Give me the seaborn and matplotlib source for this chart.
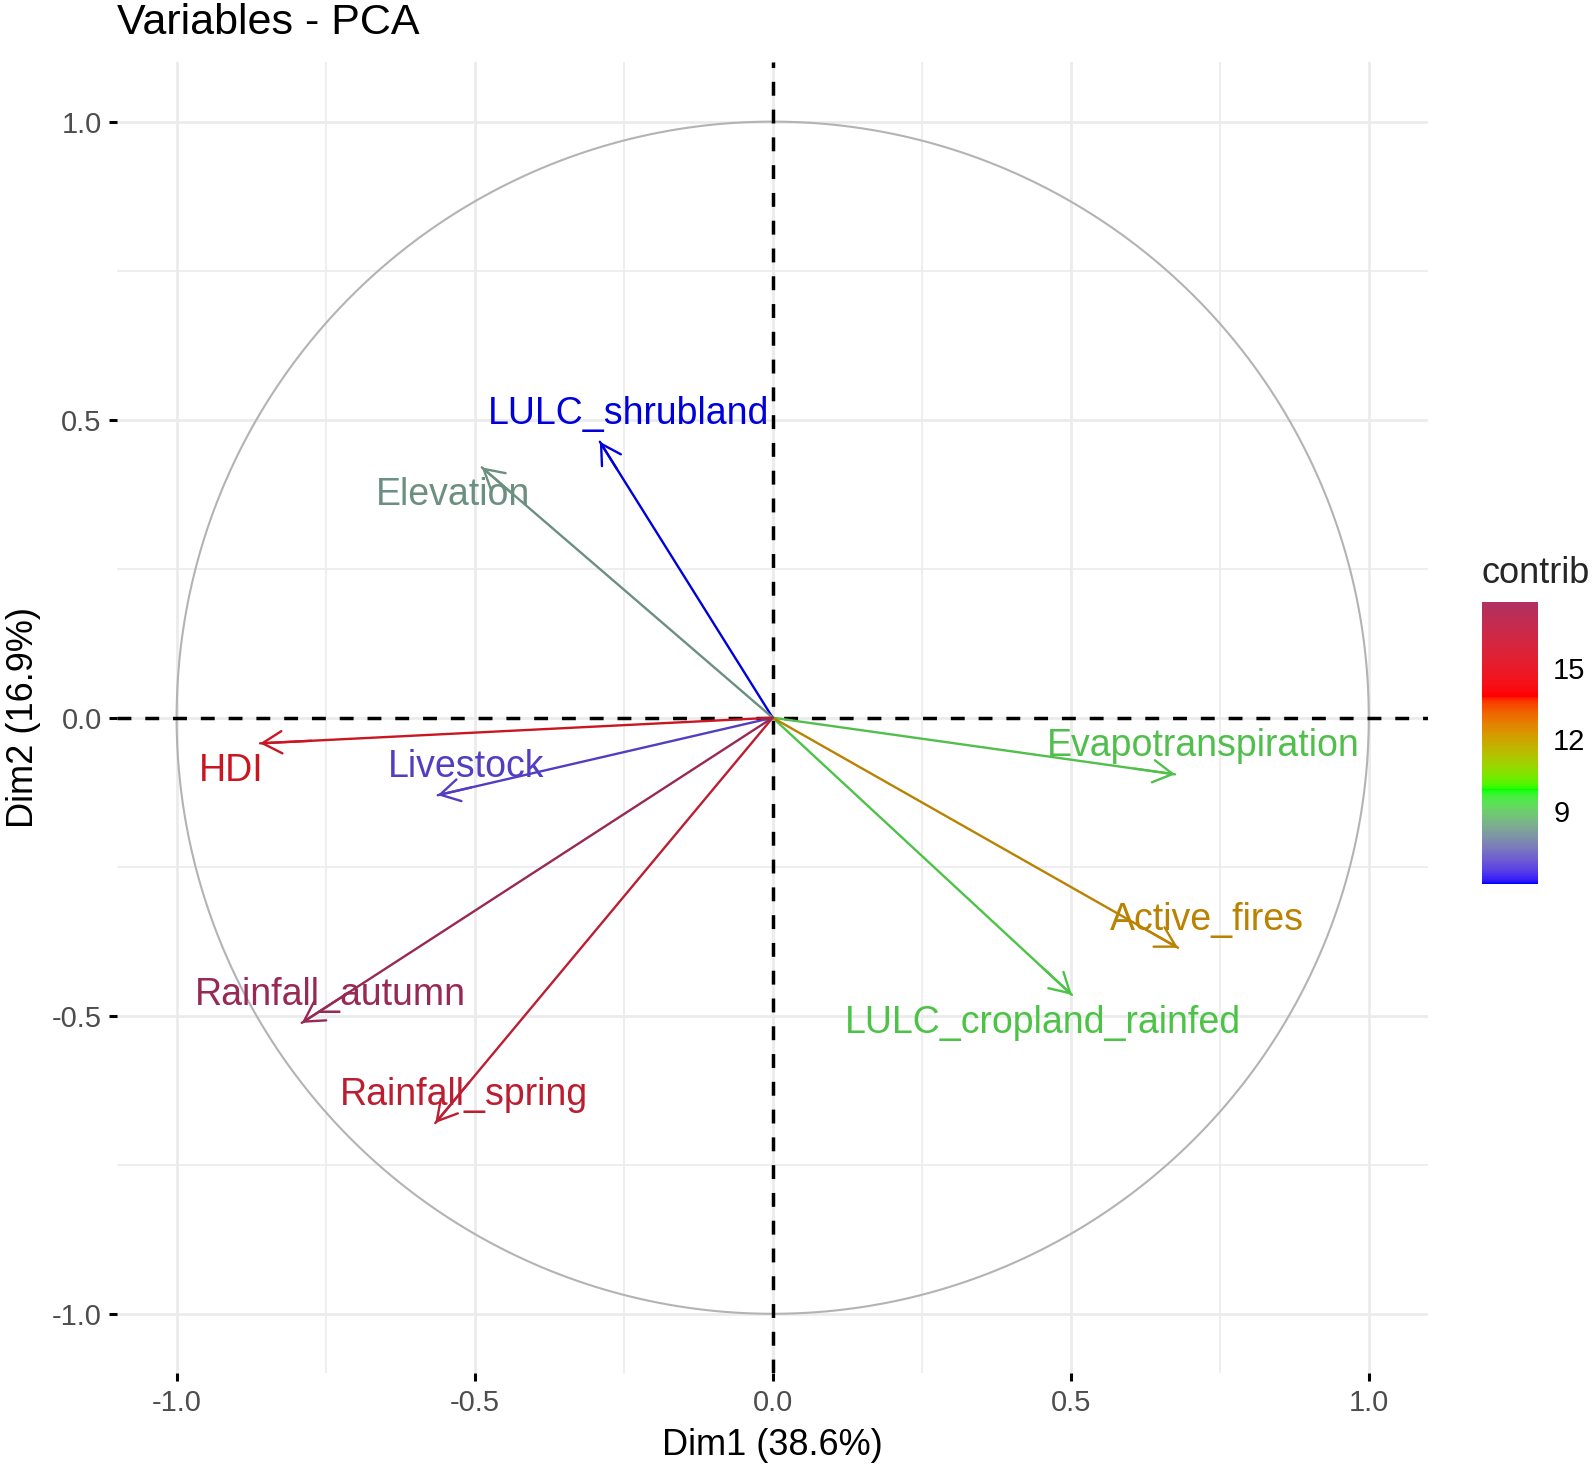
import numpy as np
import pandas as pd
import seaborn as sns
import matplotlib.pyplot as plt
from matplotlib.colors import ListedColormap, Normalize
from matplotlib.cm import ScalarMappable

# data

variables = ["HDI", "Livestock", "LULC_shrubland", "Elevation", "Rainfall_autumn",
             "Rainfall_spring", "Evapotranspiration", "Active_fires", "LULC_cropland_rainfed"]
dim1 = [-0.860, -0.562, -0.290, -0.488, -0.790, -0.566, 0.675, 0.680, 0.502]
dim2 = [-0.043, -0.130, 0.463, 0.420, -0.512, -0.680, -0.095, -0.386, -0.465]
contrib = [14.85, 6.66, 5.96, 8.29, 17.74, 15.67, 9.30, 12.24, 9.37]
# which side of the arrow tip the label sits on
label_side = [(-1, -1), (1, 1), (1, 1), (-1, -1), (1, 1), (1, 1), (1, 1), (1, 1), (-1, -1)]

dim1_pct = 38.6
dim2_pct = 16.9
contrib_ticks = [9, 12, 15]
gradient_cols = ["#0000FF", "#00FF00", "#FF0000", "#B03060"]  # blue, green, red, maroon


# colour ramp interpolated in CIE Lab, like ggplot's gradientn

M = np.array([[0.4124564, 0.3575761, 0.1804375],
              [0.2126729, 0.7151522, 0.0721750],
              [0.0193339, 0.1191920, 0.9503041]])
WHITE = np.array([0.95047, 1.0, 1.08883])
D = 6 / 29


def to_lab(hexes):
    rgb = np.array([[int(h[i:i + 2], 16) / 255 for i in (1, 3, 5)] for h in hexes])
    lin = np.where(rgb <= 0.04045, rgb / 12.92, ((rgb + 0.055) / 1.055) ** 2.4)
    t = (lin @ M.T) / WHITE
    f = np.where(t > D ** 3, np.cbrt(t), t / (3 * D ** 2) + 4 / 29)
    return np.column_stack([116 * f[:, 1] - 16, 500 * (f[:, 0] - f[:, 1]), 200 * (f[:, 1] - f[:, 2])])


def from_lab(lab):
    fy = (lab[:, 0] + 16) / 116
    f = np.column_stack([fy + lab[:, 1] / 500, fy, fy - lab[:, 2] / 200])
    t = np.where(f > D, f ** 3, 3 * D ** 2 * (f - 4 / 29)) * WHITE
    lin = np.clip(t @ np.linalg.inv(M).T, 0, 1)
    rgb = np.where(lin <= 0.0031308, 12.92 * lin, 1.055 * lin ** (1 / 2.4) - 0.055)
    return np.clip(rgb, 0, 1)


stops = to_lab(gradient_cols)
pos = np.linspace(0, 1, 256)
lab = np.column_stack([np.interp(pos, np.linspace(0, 1, len(stops)), stops[:, k]) for k in range(3)])
cmap = ListedColormap(from_lab(lab))
# thin lines and text read a little darker in the reference
cmap_lines = ListedColormap(from_lab(lab) * 0.86)
norm = Normalize(vmin=min(contrib), vmax=max(contrib))

# long table of arrow shafts (origin -> tip)

rows = []
for v, x, y, c in zip(variables, dim1, dim2, contrib):
    rows.append({"var": v, "x": 0.0, "y": 0.0, "contrib": c, "step": 0})
    rows.append({"var": v, "x": x, "y": y, "contrib": c, "step": 1})
df = pd.DataFrame(rows)

theta = np.linspace(0, 2 * np.pi, 400)
df_circle = pd.DataFrame({"x": np.cos(theta), "y": np.sin(theta)})

# plot

sns.set_theme(style="whitegrid")
plt.rcParams["font.family"] = ["Liberation Sans", "DejaVu Sans"]

fig = plt.figure(figsize=(15.94, 14.68), dpi=100)
ax = fig.add_axes([0.0734, 0.0640, 0.8227, 0.8942])
ax.set_facecolor("white")

sns.lineplot(data=df_circle, x="x", y="y", sort=False, estimator=None,
             color="#B3B3B3", lw=1.5, ax=ax)

ax.axhline(0, color="black", lw=2.5, ls=(0, (4, 4)), zorder=3)
ax.axvline(0, color="black", lw=2.5, ls=(0, (4, 4)), zorder=3)

sns.lineplot(data=df, x="x", y="y", hue="contrib", palette=cmap_lines, hue_norm=norm,
             units="var", estimator=None, sort=False, lw=1.7, legend=False, ax=ax, zorder=4)

for v, x, y, c, (sx, sy) in zip(variables, dim1, dim2, contrib, label_side):
    col = cmap_lines(norm(c))
    ax.annotate("", xy=(x, y), xytext=(0.9 * x, 0.9 * y),
                arrowprops=dict(arrowstyle="->,head_length=0.7,head_width=0.4",
                                color=col, lw=1.7, shrinkA=0, shrinkB=0,
                                mutation_scale=20), zorder=5)
    ax.text(x + 0.048 * sx, y + 0.047 * sy, v, color=col, fontsize=27,
            ha="center", va="center", zorder=6)

ax.set_xlim(-1.1, 1.1)
ax.set_ylim(-1.1, 1.1)
ax.set_aspect("equal")

ticks = [-1.0, -0.5, 0.0, 0.5, 1.0]
ax.set_xticks(ticks)
ax.set_yticks(ticks)
ax.set_xticklabels([f"{t:.1f}" for t in ticks])
ax.set_yticklabels([f"{t:.1f}" for t in ticks])
ax.set_xticks([-0.75, -0.25, 0.25, 0.75], minor=True)
ax.set_yticks([-0.75, -0.25, 0.25, 0.75], minor=True)
ax.grid(which="major", color="#EBEBEB", lw=2.0)
ax.grid(which="minor", color="#EBEBEB", lw=1.2)
ax.set_axisbelow(True)
ax.tick_params(which="major", axis="both", direction="out", length=6, width=2.2,
               color="black", labelsize=21, labelcolor="#4D4D4D", pad=5)
ax.tick_params(axis="x", which="major", bottom=True, top=False)
ax.tick_params(axis="y", which="major", left=True, right=False)
ax.tick_params(which="minor", length=0)
for s in ax.spines.values():
    s.set_visible(False)

ax.set_xlabel(f"Dim1 ({dim1_pct}%)", fontsize=26, color="black", labelpad=8)
ax.set_ylabel(f"Dim2 ({dim2_pct}%)", fontsize=26, color="black", labelpad=8)
ax.set_title("Variables - PCA", loc="left", fontsize=31, color="black", pad=20)

# colour bar

cax = fig.add_axes([0.9297, 0.3978, 0.0351, 0.1921])
cb = fig.colorbar(ScalarMappable(norm=norm, cmap=cmap), cax=cax, ticks=contrib_ticks)
cb.outline.set_visible(False)
cax.yaxis.set_ticks_position("both")
cax.tick_params(direction="in", color="white", length=7, width=1.2,
                labelsize=21, labelcolor="black", pad=11, labelright=True, labelleft=False)
cax.set_title("contrib", loc="left", fontsize=26, pad=14)

fig.savefig("out.png", dpi=100, facecolor="white")
